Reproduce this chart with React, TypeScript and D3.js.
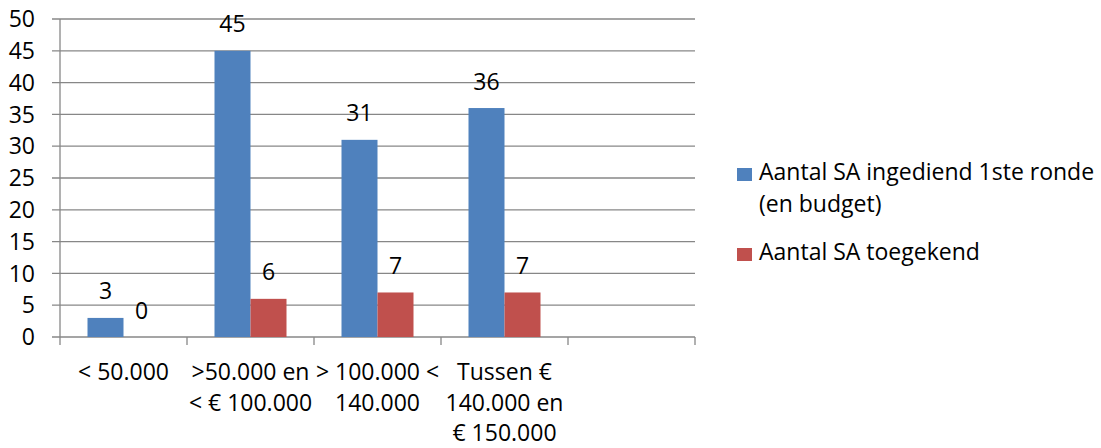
import React from "react";
import * as d3 from "d3";

const categories = ["< 50.000", ">50.000 en|< € 100.000", "> 100.000 <|140.000", "Tussen €|140.000 en|€ 150.000", ""];
const seriesNames = ["Aantal SA ingediend 1ste ronde|(en budget)", "Aantal SA toegekend"];
const submitted = [3, 45, 31, 36, null];
const granted = [0, 6, 7, 7, null];
const yTicks = [0, 5, 10, 15, 20, 25, 30, 35, 40, 45, 50];
const colors = ["#4F81BD", "#C0504D"];

const W = 1101, H = 448;
const FONT = "'Open Sans', sans-serif";

export default function App() {
  const x = d3.scaleBand<string>().domain(categories.map((_, i) => String(i))).range([60, 695]).padding(0);
  const y = d3.scaleLinear().domain([0, 50]).range([337, 19]);
  const inner = d3.scaleBand<string>().domain(["0", "1"]).range([0, 72]).padding(0);
  const series = [submitted, granted];
  const grid = "#878787";
  return (
    <svg width={W} height={H} style={{ position: "absolute", left: 0, top: 0, background: "#fff" }} fontFamily={FONT}>
      {yTicks.map((t) => (
        <g key={t}>
          <line x1={52} x2={695} y1={y(t)} y2={y(t)} stroke={grid} strokeWidth={1.3} />
          <text x={35} y={y(t)} dy="0.36em" textAnchor="end" fontSize={23} fill="#000">{t}</text>
        </g>
      ))}
      <line x1={60} x2={60} y1={y(50)} y2={y(0) + 8} stroke={grid} strokeWidth={1.3} />
      {categories.map((_, i) => (
        <line key={i} x1={x(String(i))! + x.bandwidth()} x2={x(String(i))! + x.bandwidth()} y1={y(0)} y2={y(0) + 8} stroke={grid} strokeWidth={1.3} />
      ))}
      {series.map((vals, s) =>
        vals.map((v, i) => {
          if (v === null) return null;
          const cx = x(String(i))! + x.bandwidth() / 2 - 36 + inner(String(s))!;
          return (
            <g key={`${s}-${i}`}>
              <rect x={cx} y={y(v)} width={inner.bandwidth()} height={y(0) - y(v)} fill={colors[s]} />
              <text x={cx + inner.bandwidth() / 2} y={y(v) - 18.5} textAnchor="middle" fontSize={23} fill="#000">{v}</text>
            </g>
          );
        })
      )}
      {categories.map((c, i) =>
        c.split("|").map((line, k) => (
          <text key={`${i}-${k}`} x={x(String(i))! + x.bandwidth() / 2} y={380 + k * 30.5} textAnchor="middle" fontSize={23} fill="#000">{line}</text>
        ))
      )}
      {seriesNames.map((n, s) => {
        const top = s === 0 ? 180 : 260;
        return (
          <g key={s}>
            <rect x={737} y={top - 12} width={15} height={13} fill={colors[s]} />
            {n.split("|").map((line, k) => (
              <text key={k} x={759} y={top + k * 32} fontSize={23} fill="#000">{line}</text>
            ))}
          </g>
        );
      })}
    </svg>
  );
}
